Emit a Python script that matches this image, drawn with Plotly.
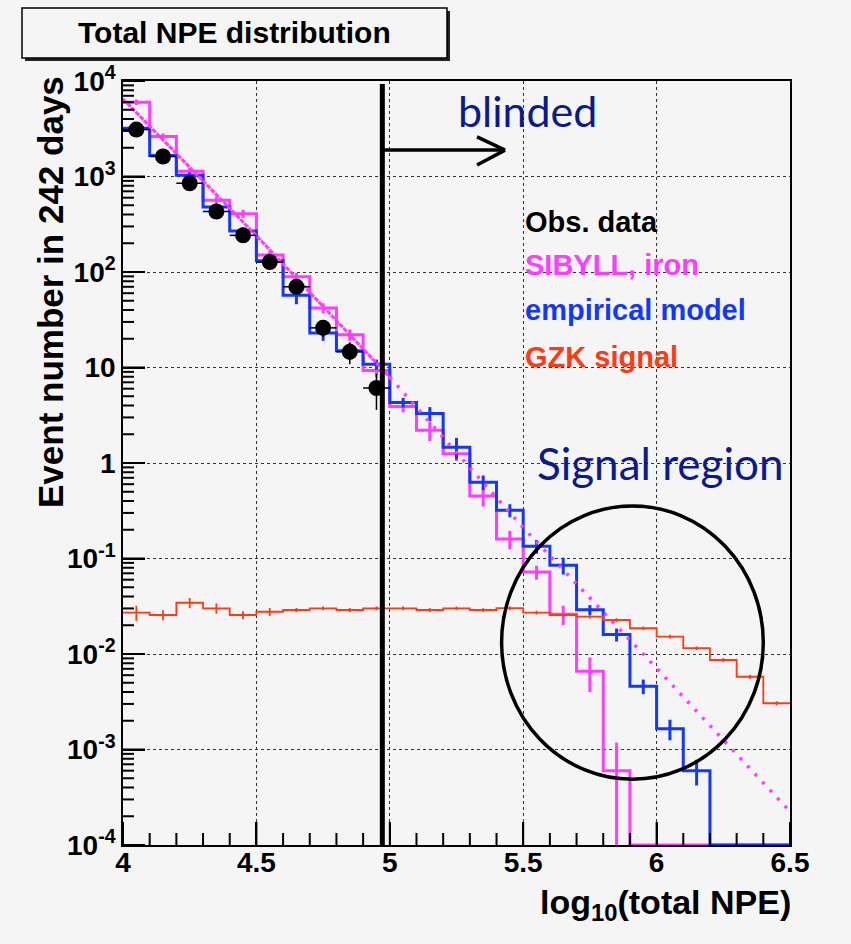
import plotly.graph_objects as go

# ---- binning: log10(total NPE), 0.1 wide bins from 4.0 to 6.5 ----
bin_edges = [4.0, 4.1, 4.2, 4.3, 4.4, 4.5, 4.6, 4.7, 4.8, 4.9, 5.0, 5.1, 5.2,
             5.3, 5.4, 5.5, 5.6, 5.7, 5.8, 5.9, 6.0, 6.1, 6.2, 6.3, 6.4, 6.5]
bin_centers = [4.05, 4.15, 4.25, 4.35, 4.45, 4.55, 4.65, 4.75, 4.85, 4.95,
               5.05, 5.15, 5.25, 5.35, 5.45, 5.55, 5.65, 5.75, 5.85, 5.95,
               6.05, 6.15, 6.25, 6.35, 6.45]

# observed data (unblinded part only)
obs_x = [4.05, 4.15, 4.25, 4.35, 4.45, 4.55, 4.65, 4.75, 4.85, 4.95]
obs_y = [3100, 1620, 850, 430, 242, 127, 70, 26, 14.6, 6.1]
obs_err = [56, 40, 29, 21, 16, 11, 8.4, 5.1, 3.8, 2.5]
obs_xerr = [0.05] * 10

# SIBYLL, iron simulation
sibyll = [6000, 2620, 1135, 565, 408, 151, 89, 42, 22, 9.3,
          3.9, 2.2, 1.25, 0.45, 0.16, 0.072, 0.026, 0.0066, 0.0006, 0,
          0, 0, 0, 0, 0]
sibyll_err = [400, 200, 90, 50, 40, 15, 9, 5, 3, 1.4,
              0.5, 0.5, 0.2, 0.1, 0.035, 0.012, 0.006, 0.0026, 0.00058, 0,
              0, 0, 0, 0, 0]

# empirical model
empirical = [3200, 1660, 1030, 480, 268, 131, 57, 23, 15, 10.8,
             4.3, 3.3, 1.46, 0.63, 0.32, 0.134, 0.085, 0.029, 0.016, 0.0046,
             0.00165, 0.0006, 0, 0, 0]
empirical_err = [150, 100, 70, 40, 25, 14, 11, 4, 3, 1.3,
                 0.5, 0.55, 0.37, 0.11, 0.05, 0.022, 0.017, 0.0035, 0.0025, 0.0008,
                 0.0004, 0.00018, 0, 0, 0]

# GZK signal expectation
gzk = [0.0271, 0.0256, 0.0344, 0.0301, 0.0256, 0.0277, 0.0289, 0.0301, 0.0289, 0.0301,
       0.0301, 0.0289, 0.0301, 0.0289, 0.0302, 0.0271, 0.0256, 0.0246, 0.0227, 0.0186,
       0.0152, 0.0115, 0.00865, 0.00578, 0.00305]
gzk_err = [0.0049, 0.0031, 0.0042, 0.0037, 0.0025, 0.0027, 0.0014, 0.0014, 0.0014, 0.0014,
           0.0014, 0.0013, 0.0013, 0.0013, 0.0013, 0.0012, 0.0011, 0.0011, 0.001, 0.0008,
           0.0007, 0.0005, 0.0004, 0.0003, 0.00015]

# power-law fit to the SIBYLL iron sample and its extrapolation
fit_x = [4.0, 4.5, 5.0, 5.5, 6.0, 6.49]
fit_y = [6500, 240, 7.9, 0.21, 0.0071, 0.00024]

x_ticks = [4, 4.5, 5, 5.5, 6, 6.5]
x_ticktext = ["4", "4.5", "5", "5.5", "6", "6.5"]
x_minor_ticks = [e for e in bin_edges if e not in x_ticks]
y_ticks = [1e-4, 1e-3, 1e-2, 1e-1, 1, 10, 1e2, 1e3, 1e4]
y_ticktext = ["10<sup>-4</sup>", "10<sup>-3</sup>", "10<sup>-2</sup>", "10<sup>-1</sup>",
              "1", "10", "10<sup>2</sup>", "10<sup>3</sup>", "10<sup>4</sup>"]
y_minor_ticks = [m * d for d in y_ticks[:-1] for m in range(2, 10)]

legend_labels = ["Obs. data", "SIBYLL, iron", "empirical model", "GZK signal"]

blind_cut = 4.972

# ---- style ----
MAGENTA = "#ff3cff"
BLUE = "#1238ff"
RED = "#ff3a14"
NAVY = "#0c1a8e"
BG = "#f5f5f5"
FONT = "Liberation Sans"
Y_FLOOR = 1e-4

W, H = 851, 944
L, R, T, B = 123, 790, 81, 845
X_RANGE = [4, 6.5]
Y_LOG_RANGE = [-4, 4]
PX_PER_X = (R - L) / (X_RANGE[1] - X_RANGE[0])
PX_PER_DECADE = (B - T) / (Y_LOG_RANGE[1] - Y_LOG_RANGE[0])


def fx(px):
    return (px - L) / (R - L)


def fy(py):
    return (B - py) / (B - T)


def step_xy(values):
    ys = [v if v > 0 else Y_FLOOR for v in values]
    return bin_edges, ys + [ys[-1]]


fig = go.Figure()


def add_hist(values, errs, color, width):
    xs, ys = step_xy(values)
    fig.add_trace(go.Scatter(x=xs, y=ys, mode="lines", line_shape="hv",
                             line=dict(color=color, width=width),
                             showlegend=False, hoverinfo="skip"))
    ex = [c for c, v in zip(bin_centers, values) if v > 0]
    ey = [v for v in values if v > 0]
    ee = [e for e, v in zip(errs, values) if v > 0]
    fig.add_trace(go.Scatter(x=ex, y=ey, mode="markers",
                             marker=dict(size=1, color=color),
                             error_y=dict(type="data", array=ee, color=color,
                                          thickness=width, width=0),
                             showlegend=False, hoverinfo="skip"))


add_hist(sibyll, sibyll_err, MAGENTA, 3)
add_hist(empirical, empirical_err, BLUE, 3)
add_hist(gzk, gzk_err, RED, 1.8)

# fit line: dense inside the fitted range, sparse dotted extrapolation
fx_in = [x for x in fit_x if x <= 5.0]
fy_in = fit_y[:len(fx_in)]
fx_out = fit_x[len(fx_in) - 1:]
fy_out = fit_y[len(fx_in) - 1:]
fig.add_trace(go.Scatter(x=fx_in, y=fy_in, mode="lines",
                         line=dict(color=MAGENTA, width=3, dash="5px,1px"),
                         showlegend=False, hoverinfo="skip"))
fig.add_trace(go.Scatter(x=fx_out, y=fy_out, mode="lines",
                         line=dict(color=MAGENTA, width=3.5, dash="3px,8px"),
                         showlegend=False, hoverinfo="skip"))

# ROOT-style inside tick marks (major + minor) along the left and bottom frame
tick_x, tick_y = [], []
for yv, length in [(v, 22) for v in y_ticks] + [(v, 11) for v in y_minor_ticks]:
    tick_x += [X_RANGE[0], X_RANGE[0] + length / PX_PER_X, None]
    tick_y += [yv, yv, None]
for xv, length in [(v, 23) for v in x_ticks] + [(v, 12) for v in x_minor_ticks]:
    tick_x += [xv, xv, None]
    tick_y += [10 ** Y_LOG_RANGE[0], 10 ** (Y_LOG_RANGE[0] + length / PX_PER_DECADE), None]
fig.add_trace(go.Scatter(x=tick_x, y=tick_y, mode="lines", connectgaps=False,
                         line=dict(color="black", width=2), cliponaxis=False,
                         showlegend=False, hoverinfo="skip"))

# observed events
fig.add_trace(go.Scatter(x=obs_x, y=obs_y, mode="markers",
                         marker=dict(size=16, color="black"),
                         error_y=dict(type="data", array=obs_err, color="black",
                                      thickness=1.5, width=0),
                         error_x=dict(type="data", array=obs_xerr, color="black",
                                      thickness=1.5, width=0),
                         showlegend=False, hoverinfo="skip"))

shapes = []
# title box with drop shadow
shapes.append(dict(type="rect", xref="paper", yref="paper",
                   x0=fx(25), x1=fx(450), y0=fy(61), y1=fy(11),
                   fillcolor="#222222", line=dict(width=0), layer="above"))
shapes.append(dict(type="rect", xref="paper", yref="paper",
                   x0=fx(22), x1=fx(447), y0=fy(58), y1=fy(8),
                   fillcolor=BG, line=dict(color="black", width=1.5), layer="above"))
# blinding cut
shapes.append(dict(type="line", xref="x", yref="paper",
                   x0=blind_cut, x1=blind_cut, y0=0, y1=0.996,
                   line=dict(color="black", width=5)))
# arrow towards the blinded region
arrow_y = 1890
shapes.append(dict(type="line", xref="x", yref="y", x0=blind_cut, x1=5.432,
                   y0=arrow_y, y1=arrow_y, line=dict(color="black", width=3.5)))
shapes.append(dict(type="line", xref="x", yref="y", x0=5.327, x1=5.432,
                   y0=2596, y1=arrow_y, line=dict(color="black", width=3.5)))
shapes.append(dict(type="line", xref="x", yref="y", x0=5.327, x1=5.432,
                   y0=1318, y1=arrow_y, line=dict(color="black", width=3.5)))
# signal region ellipse
shapes.append(dict(type="circle", xref="x", yref="y", x0=5.419, x1=6.400,
                   y0=4.88e-4, y1=0.355, line=dict(color="black", width=3.5)))

annotations = []
annotations.append(dict(xref="paper", yref="paper", x=fx(234.5), y=fy(33),
                        text="Total NPE distribution", showarrow=False,
                        xanchor="center", yanchor="middle",
                        font=dict(family=FONT, size=30, color="black", weight="bold")))
annotations.append(dict(xref="paper", yref="paper", x=fx(50), y=fy(292),
                        text="Event number in 242 days", showarrow=False, textangle=-90,
                        xanchor="center", yanchor="middle",
                        font=dict(family=FONT, size=35, color="black", weight="bold")))
annotations.append(dict(xref="paper", yref="paper", x=fx(793), y=fy(904),
                        text="log<sub>10</sub>(total NPE)", showarrow=False,
                        xanchor="right", yanchor="middle",
                        font=dict(family=FONT, size=34, color="black", weight="bold")))
annotations.append(dict(xref="paper", yref="paper", x=fx(527), y=fy(110),
                        text="blinded", showarrow=False,
                        xanchor="center", yanchor="middle",
                        font=dict(family="Lato", size=43, color=NAVY)))
annotations.append(dict(xref="paper", yref="paper", x=fx(660), y=fy(463),
                        text="Signal region", showarrow=False,
                        xanchor="center", yanchor="middle",
                        font=dict(family="Lato", size=44, color=NAVY)))
legend_y = [222, 265, 310, 357]
legend_colors = ["black", MAGENTA, BLUE, RED]
for lab, ly, col in zip(legend_labels, legend_y, legend_colors):
    annotations.append(dict(xref="paper", yref="paper", x=fx(523), y=fy(ly),
                            text=lab, showarrow=False, xanchor="left", yanchor="middle",
                            font=dict(family=FONT, size=29, color=col, weight="bold")))

fig.update_layout(
    width=W, height=H,
    margin=dict(l=L, r=W - R, t=T, b=H - B, pad=0),
    paper_bgcolor=BG, plot_bgcolor=BG,
    showlegend=False,
    shapes=shapes, annotations=annotations,
    xaxis=dict(range=X_RANGE, tickvals=x_ticks, ticktext=x_ticktext,
               ticks="inside", ticklen=23, tickwidth=2, tickcolor="black",
               ticklabelstandoff=-8,
               showgrid=True, gridcolor="#333333", griddash="dot", gridwidth=1,
               showline=True, linecolor="black", linewidth=1.5, mirror=True,
               zeroline=False,
               tickfont=dict(family=FONT, size=28, color="black", weight="bold")),
    yaxis=dict(type="log", range=Y_LOG_RANGE, tickvals=y_ticks, ticktext=y_ticktext,
               ticks="inside", ticklen=22, tickwidth=2, tickcolor="black",
               showgrid=True, gridcolor="#333333", griddash="dot", gridwidth=1,
               showline=True, linecolor="black", linewidth=1.5, mirror=True,
               zeroline=False,
               tickfont=dict(family=FONT, size=28, color="black", weight="bold")),
)

fig.write_html("out.html")
